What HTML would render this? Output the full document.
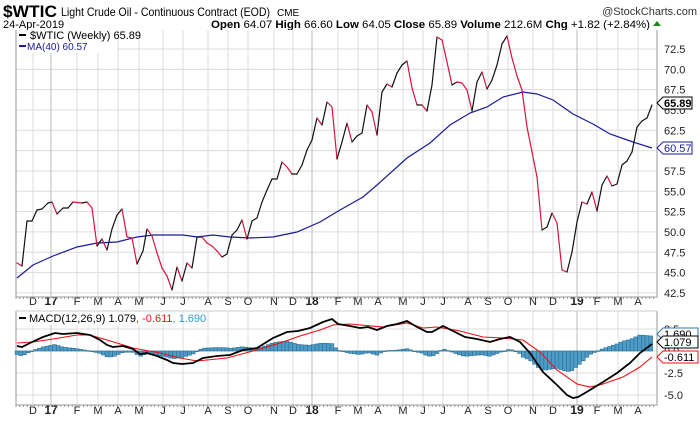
<!DOCTYPE html>
<html><head><meta charset="utf-8"><style>
body{margin:0;background:#fff;width:700px;height:421px;overflow:hidden}
svg{display:block;font-family:"Liberation Sans",Arial,sans-serif}
</style></head><body>
<svg id="s" width="700" height="421" xmlns="http://www.w3.org/2000/svg">
<text x="3" y="17" font-size="17" font-weight="bold" fill="#000" textLength="54" lengthAdjust="spacingAndGlyphs">$WTIC</text>
<text x="61" y="16" font-size="12" fill="#000" textLength="209" lengthAdjust="spacingAndGlyphs">Light Crude Oil - Continuous Contract (EOD)</text>
<text x="277" y="16" font-size="10" fill="#000">CME</text>
<text x="697" y="15" font-size="11" fill="#333" text-anchor="end">@StockCharts.com</text>
<text x="3" y="28" font-size="11" fill="#000">24-Apr-2019</text>
<text x="211" y="28" font-size="11" fill="#000" textLength="439" lengthAdjust="spacingAndGlyphs"><tspan font-weight="bold">Open</tspan> 64.07 <tspan font-weight="bold">High</tspan> 66.60 <tspan font-weight="bold">Low</tspan> 64.05 <tspan font-weight="bold">Close</tspan> 65.89 <tspan font-weight="bold">Volume</tspan> 212.6M <tspan font-weight="bold">Chg</tspan> +1.82 (+2.84%)</text>
<polygon points="653,26 661,26 657,21" fill="#1a8a1a"/>
<g id="g"></g>
</svg>
<script>
var g=document.getElementById('g'),NS='http://www.w3.org/2000/svg';
function el(t,a,txt){var e=document.createElementNS(NS,t);for(var k in a)e.setAttribute(k,a[k]);if(txt!=null)e.textContent=txt;g.appendChild(e);return e;}
var L=16,R=657;
var mx=[33,51,77,98,118,139,163,183,208,228,248,274,293,312,338,358,378,403,423,443,468,488,508,533,553,577,597,618,638];
var ml=['D','17','F','M','A','M','J','J','A','S','O','N','D','18','F','M','A','M','J','J','A','S','O','N','D','19','F','M','A'];
function py(v){return 49+(72.5-v)*8.13;}
el('rect',{x:L,y:30,width:R-L,height:267,fill:'#fff',stroke:'none'});
for(var v=42.5;v<=72.6;v+=2.5){var y=py(v);el('line',{x1:L,x2:R,y1:y,y2:y,stroke:'#dcdcdc'});el('text',{x:664,y:y+4,'font-size':11,fill:'#222'},v.toFixed(1));}
var my=[329,351,373,395];
my.forEach(function(y){el('line',{x1:L,x2:R,y1:y,y2:y,stroke:'#dcdcdc'});});
mx.forEach(function(x,i){var yr=/\d/.test(ml[i]);var c=yr?'#bbb':'#dcdcdc';
el('line',{x1:x,x2:x,y1:30,y2:297,stroke:c});el('line',{x1:x,x2:x,y1:311,y2:405,stroke:c});
[305,414].forEach(function(ty){el('text',{x:x,y:ty,'font-size':yr?12:11,'font-weight':yr?'bold':'normal','text-anchor':'middle',fill:'#222'},ml[i]);});});
el('polyline',{points:L+',30 '+L+',297 '+R+',297 '+R+',30',fill:'none',stroke:'#999'});
el('polyline',{points:L+',311 '+L+',405 '+R+',405 '+R+',311',fill:'none',stroke:'#999'});
el('line',{x1:L,x2:R,y1:311,y2:311,stroke:'#ccc'});
for(var x=L;x<R;x+=3.75){el('line',{x1:x,x2:x,y1:297,y2:299,stroke:'#999'});el('line',{x1:x,x2:x,y1:405,y2:407,stroke:'#999'});}
var ma=[[17,278],[33,265],[53,256],[77,247],[97,243],[117,242],[137,237],[153,235],[183,235],[197,237],[213,235],[230,237],[250,238],[273,237],[297,232],[320,222],[340,210],[363,197],[377,185],[407,158],[430,143],[450,125],[470,113],[487,107],[503,97],[523,92],[537,94],[553,100],[573,114],[593,124],[610,134],[633,142],[652,148]];
el('polyline',{points:ma.join(' '),fill:'none',stroke:'#1a1a9a','stroke-width':1.2});
var p=[[17,263],[22,266],[27,221],[32,221],[37,210],[42,209],[48,203],[52,202],[57,214],[63,208],[68,208],[73,202],[82,203],[87,202],[92,208],[97,246],[102,239],[107,250],[112,229],[117,215],[122,209],[127,237],[132,238],[137,264],[143,251],[147,229],[152,236],[157,253],[162,268],[167,276],[172,290],[177,267],[182,281],[187,263],[192,268],[197,237],[202,237],[207,243],[212,246],[217,251],[222,257],[227,254],[232,235],[237,230],[242,220],[247,239],[252,221],[257,218],[262,202],[267,190],[272,179],[277,179],[282,162],[287,167],[292,174],[297,174],[302,165],[307,150],[312,140],[317,118],[322,125],[327,102],[332,107],[337,159],[342,142],[347,123],[352,142],[357,136],[362,133],[367,105],[372,112],[377,135],[382,92],[387,84],[392,87],[397,73],[402,65],[407,61],[412,88],[417,105],[422,105],[427,111],[432,85],[437,37],[442,40],[447,62],[452,85],[457,82],[462,83],[467,90],[472,111],[477,82],[482,72],[487,89],[492,80],[497,65],[502,44],[507,36],[512,58],[517,76],[522,90],[527,127],[532,152],[537,177],[542,230],[547,227],[552,213],[557,223],[562,270],[567,272],[572,252],[577,222],[582,202],[587,204],[592,192],[597,211],[602,185],[607,176],[612,186],[617,184],[622,165],[627,161],[632,152],[637,127],[642,121],[647,118],[652,105]];
for(var i=1;i<p.length;i++){el('line',{x1:p[i-1][0],y1:p[i-1][1],x2:p[i][0],y2:p[i][1],stroke:p[i][1]>p[i-1][1]?'#d4143c':'#111','stroke-width':1.2,'stroke-linecap':'round'});}
el('rect',{x:17,y:31,width:100,height:22,fill:'#fff'});
el('line',{x1:19,x2:26,y1:35,y2:35,stroke:'#000','stroke-width':2});
el('text',{x:30,y:39,'font-size':11,fill:'#000'},'$WTIC (Weekly) 65.89');
el('line',{x1:19,x2:26,y1:46,y2:46,stroke:'#1a1a9a','stroke-width':2});
el('text',{x:27,y:50,'font-size':10,fill:'#1a1a9a'},'MA(40) 60.57');
function tag(y,t,c,bold){el('polygon',{points:'657,'+y+' 663,'+(y-6)+' 692,'+(y-6)+' 692,'+(y+6)+' 663,'+(y+6),fill:'#fff',stroke:c});el('text',{x:664,y:y+4,'font-size':11,'font-weight':bold?'bold':'normal',fill:c},t);}
tag(103,'65.89','#000',true);tag(148,'60.57','#1a1a9a',false);
var mc=[[17,346],[22,347],[32,342],[43,337],[55,333],[63,334],[77,333],[90,335],[100,340],[107,345],[113,347],[123,346],[133,349],[140,354],[147,353],[157,356],[167,360],[173,363],[182,364],[193,363],[203,358],[217,356],[230,355],[243,350],[257,348],[273,338],[287,332],[298,331],[310,328],[323,322],[332,319],[338,324],[350,326],[360,328],[368,327],[377,330],[387,326],[397,324],[407,321],[417,327],[427,332],[432,332],[443,326],[453,331],[465,337],[477,339],[490,342],[500,339],[510,337],[520,342],[530,353],[543,372],[557,385],[567,395],[573,398],[578,397],[590,390],[603,382],[617,373],[630,363],[640,353],[652,344]];
var sg=[[17,343],[33,342],[53,339],[77,335],[90,335],[107,340],[133,348],[160,353],[180,358],[197,361],[227,358],[253,351],[280,343],[300,336],[320,330],[333,325],[350,324],[383,327],[407,323],[423,328],[437,327],[460,331],[483,337],[503,338],[523,340],[540,352],[557,370],[577,384],[590,387],[603,384],[623,377],[640,367],[652,357]];
function interp(a,x){for(var i=1;i<a.length;i++){if(x<=a[i][0]){var t=(x-a[i-1][0])/(a[i][0]-a[i-1][0]);return a[i-1][1]+t*(a[i][1]-a[i-1][1]);}}return a[a.length-1][1];}
for(var x=17;x<=653;x+=3.75){var h=(interp(sg,x)-interp(mc,x))*1.15;var y0=351;
el('rect',{x:x-1.9,y:h>0?y0-h:y0,width:3.75,height:Math.max(Math.abs(h),0.6),fill:'#4d9cc8',stroke:'#2d6d8f','stroke-width':0.6});}
el('polyline',{points:sg.join(' '),fill:'none',stroke:'#ee1111','stroke-width':1.1});
el('polyline',{points:mc.join(' '),fill:'none',stroke:'#000','stroke-width':1.8});
el('rect',{x:17,y:312,width:150,height:13,fill:'#fff'});
el('line',{x1:19,x2:26,y1:318,y2:318,stroke:'#000','stroke-width':2});
var tx=el('text',{x:29,y:322,'font-size':11,fill:'#000'});
tx.innerHTML='MACD(12,26,9) 1.079<tspan fill="#ee1111">, -0.611</tspan><tspan fill="#3399cc">, 1.690</tspan>';
[[329,'2.5'],[351,'0.0'],[373,'-2.5'],[395,'-5.0']].forEach(function(a){el('text',{x:664,y:a[0]+4,'font-size':11,fill:'#222'},a[1]);});
function tag2(y,t,c){el('polygon',{points:'657,'+y+' 663,'+(y-6)+' 698,'+(y-6)+' 698,'+(y+6)+' 663,'+(y+6),fill:'#fff',stroke:c});el('text',{x:664,y:y+4,'font-size':11,fill:'#000'},t);}
tag2(334,'1.690','#3377aa');tag2(342,'1.079','#000');tag2(357,'-0.611','#ee1111');
</script>
</body></html>
